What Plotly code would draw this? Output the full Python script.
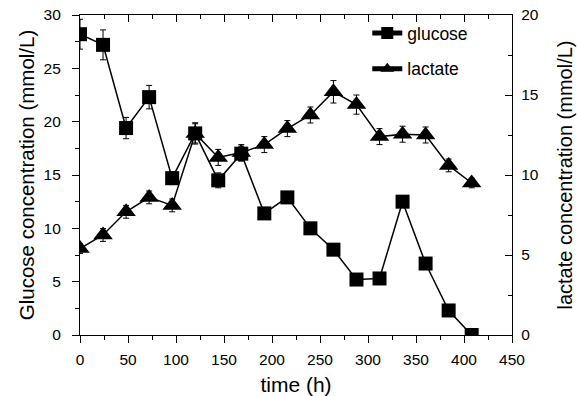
import plotly.graph_objects as go

time_h = [0, 24, 48, 72, 96, 120, 144, 168, 192, 216, 240, 264, 288, 312, 336, 360, 384, 408]
glucose = [28.2, 27.2, 19.4, 22.3, 14.7, 18.9, 14.5, 17.0, 11.4, 12.9, 10.0, 8.0, 5.2, 5.3, 12.5, 6.7, 2.3, 0.0]
glucose_err = [1.4, 1.4, 1.0, 1.1, 0.6, 1.0, 0.7, 0.7, 0.4, 0.5, 0.2, 0.2, 0.2, 0.2, 0.3, 0.2, 0.2, 0.1]
lactate = [5.4, 6.25, 7.7, 8.6, 8.1, 12.6, 11.1, 11.4, 11.9, 12.9, 13.75, 15.2, 14.4, 12.4, 12.55, 12.5, 10.6, 9.5]
lactate_err = [0.3, 0.4, 0.4, 0.4, 0.4, 0.6, 0.5, 0.5, 0.5, 0.5, 0.5, 0.7, 0.6, 0.5, 0.5, 0.5, 0.4, 0.3]

FONT = "Liberation Sans, Arial, sans-serif"

fig = go.Figure()
fig.add_trace(go.Scatter(
    x=time_h, y=lactate, name="lactate", yaxis="y2", legendgroup="b", legendrank=2,
    mode="lines+markers",
    line=dict(color="black", width=1.5),
    marker=dict(symbol="triangle-up", size=17, color="black"),
    error_y=dict(type="data", array=lactate_err, color="black", thickness=1, width=3),
))
fig.add_trace(go.Scatter(
    x=time_h, y=glucose, name="glucose", legendgroup="a", legendrank=1,
    mode="lines+markers",
    line=dict(color="black", width=1.5),
    marker=dict(symbol="square", size=14, color="black"),
    error_y=dict(type="data", array=glucose_err, color="black", thickness=1, width=3),
))
# invisible trace to drive top axis
fig.add_trace(go.Scatter(x=[0], y=[0], xaxis="x2", showlegend=False,
                         mode="markers", marker=dict(opacity=0), hoverinfo="skip"))

axis_common = dict(showgrid=False, zeroline=False, showline=True, linecolor="black",
                   linewidth=1.2, tickcolor="black", ticklen=7, automargin=False)
tickf = dict(size=15.5, color="black")

fig.update_layout(
    width=577, height=396,
    margin=dict(l=80, r=65, t=15, b=61),
    paper_bgcolor="white", plot_bgcolor="white",
    font=dict(family=FONT, color="black"),
    xaxis=dict(range=[0, 450], tickvals=list(range(0, 451, 50)), ticks="outside",
               minor=dict(tickvals=list(range(25, 451, 50)), ticks="outside", ticklen=4,
                          tickcolor="black"),
               tickfont=tickf, ticklabelstandoff=3,
               title=dict(text="time (h)", font=dict(size=21), standoff=10),
               **axis_common),
    xaxis2=dict(range=[0, 450], overlaying="x", side="top", tickvals=list(range(0, 451, 50)),
                ticks="inside", showticklabels=False,
                minor=dict(tickvals=list(range(25, 451, 50)), ticks="inside", ticklen=4,
                           tickcolor="black"),
                **axis_common),
    yaxis=dict(range=[0, 30], tickvals=list(range(0, 31, 5)), ticks="outside",
               minor=dict(tickvals=[2.5, 7.5, 12.5, 17.5, 22.5, 27.5], ticks="outside",
                          ticklen=4, tickcolor="black"),
               tickfont=tickf, ticklabelstandoff=8,
               title=dict(text="Glucose concentration (mmol/L)", font=dict(size=20.5), standoff=3),
               **axis_common),
    yaxis2=dict(range=[0, 20], overlaying="y", side="right", tickvals=[0, 5, 10, 15, 20],
                ticks="inside",
                minor=dict(tickvals=[2.5, 7.5, 12.5, 17.5], ticks="inside", ticklen=4,
                           tickcolor="black"),
                tickfont=tickf, ticklabelstandoff=5,
                title=dict(text="lactate concentration (mmol/L)", font=dict(size=20), standoff=20),
                **axis_common),
    legend=dict(x=0.665, y=1.0, xanchor="left", yanchor="top", bgcolor="rgba(0,0,0,0)",
                font=dict(size=17.5), traceorder="grouped", tracegroupgap=10,
                itemsizing="constant"),
    showlegend=True,
)

fig.write_html("out.html")
